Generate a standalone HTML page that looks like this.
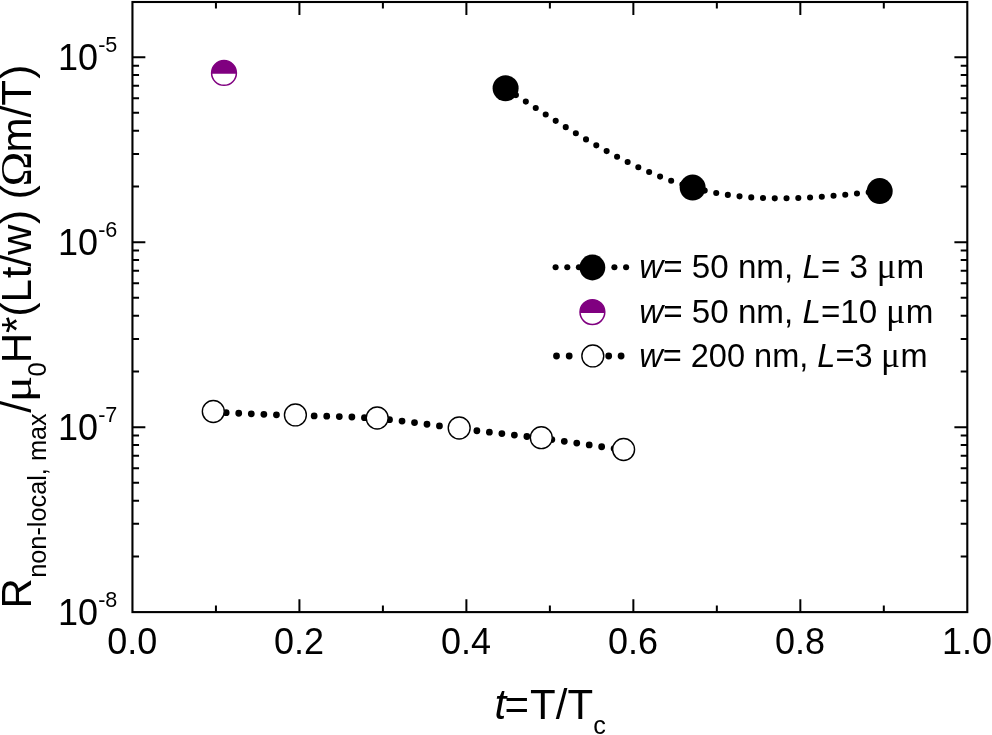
<!DOCTYPE html>
<html lang="en"><head><meta charset="utf-8"><title>R non-local vs t</title>
<style>html,body{margin:0;padding:0;background:#fff;overflow:hidden}svg{display:block}text{font-family:"Liberation Sans", Arial, Helvetica, sans-serif;fill:#000;white-space:pre}.sy{font-family:"Liberation Serif", "DejaVu Serif", serif}.it{font-style:italic}</style>
</head><body>
<svg width="992" height="735" viewBox="0 0 992 735">
<rect width="992" height="735" fill="#fff"/>
<path d="M215.94 612.10V605.50M215.94 2.00V8.60M299.42 612.10V599.20M299.42 2.00V14.90M382.90 612.10V605.50M382.90 2.00V8.60M466.39 612.10V599.20M466.39 2.00V14.90M549.88 612.10V605.50M549.88 2.00V8.60M633.36 612.10V599.20M633.36 2.00V14.90M716.84 612.10V605.50M716.84 2.00V8.60M800.33 612.10V599.20M800.33 2.00V14.90M883.81 612.10V605.50M883.81 2.00V8.60M132.45 556.42H139.05M967.30 556.42H960.70M132.45 523.85H139.05M967.30 523.85H960.70M132.45 500.74H139.05M967.30 500.74H960.70M132.45 482.81H139.05M967.30 482.81H960.70M132.45 468.17H139.05M967.30 468.17H960.70M132.45 455.78H139.05M967.30 455.78H960.70M132.45 445.06H139.05M967.30 445.06H960.70M132.45 435.59H139.05M967.30 435.59H960.70M132.45 427.13H145.35M967.30 427.13H954.40M132.45 371.45H139.05M967.30 371.45H960.70M132.45 338.88H139.05M967.30 338.88H960.70M132.45 315.77H139.05M967.30 315.77H960.70M132.45 297.84H139.05M967.30 297.84H960.70M132.45 283.20H139.05M967.30 283.20H960.70M132.45 270.81H139.05M967.30 270.81H960.70M132.45 260.09H139.05M967.30 260.09H960.70M132.45 250.62H139.05M967.30 250.62H960.70M132.45 242.16H145.35M967.30 242.16H954.40M132.45 186.48H139.05M967.30 186.48H960.70M132.45 153.91H139.05M967.30 153.91H960.70M132.45 130.80H139.05M967.30 130.80H960.70M132.45 112.87H139.05M967.30 112.87H960.70M132.45 98.23H139.05M967.30 98.23H960.70M132.45 85.84H139.05M967.30 85.84H960.70M132.45 75.12H139.05M967.30 75.12H960.70M132.45 65.65H139.05M967.30 65.65H960.70M132.45 57.19H145.35M967.30 57.19H954.40" stroke="#000" stroke-width="2.00" fill="none"/>
<rect x="132.45" y="2.00" width="834.85" height="610.10" fill="none" stroke="#000" stroke-width="2.10"/>
<text transform="translate(107.13 654.40) scale(0.9756 1)" font-size="36.90"><tspan>0.0</tspan></text>
<text transform="translate(274.10 654.40) scale(0.9756 1)" font-size="36.90"><tspan>0.2</tspan></text>
<text transform="translate(441.07 654.40) scale(0.9756 1)" font-size="36.90"><tspan>0.4</tspan></text>
<text transform="translate(608.04 654.40) scale(0.9756 1)" font-size="36.90"><tspan>0.6</tspan></text>
<text transform="translate(775.01 654.40) scale(0.9756 1)" font-size="36.90"><tspan>0.8</tspan></text>
<text transform="translate(941.98 654.40) scale(0.9756 1)" font-size="36.90"><tspan>1.0</tspan></text>
<text transform="translate(58.10 70.29) scale(0.9756 1)" font-size="36.90"><tspan>10</tspan><tspan dy="-18.00" font-size="22.14">-5</tspan></text>
<text transform="translate(58.10 255.26) scale(0.9756 1)" font-size="36.90"><tspan>10</tspan><tspan dy="-18.00" font-size="22.14">-6</tspan></text>
<text transform="translate(58.10 440.23) scale(0.9756 1)" font-size="36.90"><tspan>10</tspan><tspan dy="-18.00" font-size="22.14">-7</tspan></text>
<text transform="translate(58.10 625.20) scale(0.9756 1)" font-size="36.90"><tspan>10</tspan><tspan dy="-18.00" font-size="22.14">-8</tspan></text>
<text transform="translate(494.50 719.40) scale(0.9709 1)" font-size="43.26"><tspan x="0.00" class="it">t</tspan><tspan x="10.30" dy="-0.60">=</tspan><tspan x="36.67" dy="0.60">T/T</tspan><tspan x="101.66" dy="14.70" font-size="25.96">c</tspan></text>
<text transform="translate(31.30 608.50) rotate(-90) scale(0.9756 1)" font-size="43.05"><tspan x="0.00">R</tspan><tspan x="31.47" dy="14.90" font-size="25.93">non-local, max</tspan><tspan x="200.59" dy="-14.90">/</tspan><tspan x="237.80" dy="14.90" font-size="26.24">0</tspan><tspan x="251.43" dy="-14.90">H*(L</tspan><tspan x="338.45">t/w</tspan><tspan x="394.11">)</tspan><tspan x="419.43">(</tspan><tspan x="467.50">m/T</tspan><tspan x="542.94">)</tspan></text>
<text transform="translate(31.30 402.30) rotate(-90) scale(1.1494 1)" font-size="42.89"><tspan class="sy">μ</tspan></text>
<text transform="translate(31.30 186.45) rotate(-90) scale(1.0526 1)" font-size="44.55"><tspan class="sy">Ω</tspan></text>
<path d="M213.30 411.50L215.36 411.60L217.42 411.70L219.49 411.80L221.55 411.90L223.61 412.00L225.67 412.10L227.73 412.20L229.79 412.30L231.86 412.39L233.92 412.49L235.98 412.59L238.04 412.69L240.10 412.78L242.17 412.88L244.23 412.97L246.29 413.06L248.35 413.16L250.41 413.25L252.47 413.34L254.54 413.43L256.60 413.52L258.66 413.60L260.72 413.69L262.78 413.78L264.85 413.86L266.91 413.94L268.97 414.02L271.03 414.10L273.09 414.18L275.15 414.25L277.22 414.33L279.28 414.40L281.34 414.47L283.40 414.54L285.46 414.61L287.53 414.67L289.59 414.73L291.65 414.79L293.71 414.85L295.77 414.91L297.83 414.96L299.90 415.02L301.96 415.07L304.02 415.12L306.08 415.17L308.14 415.21L310.21 415.26L312.27 415.31L314.33 415.35L316.39 415.40L318.45 415.44L320.51 415.49L322.58 415.54L324.64 415.59L326.70 415.64L328.76 415.69L330.82 415.74L332.88 415.80L334.95 415.86L337.01 415.92L339.07 415.98L341.13 416.05L343.19 416.12L345.26 416.20L347.32 416.27L349.38 416.36L351.44 416.44L353.50 416.53L355.56 416.63L357.63 416.73L359.69 416.84L361.75 416.95L363.81 417.07L365.87 417.19L367.94 417.32L370.00 417.46L372.06 417.61L374.12 417.76L376.18 417.92L378.24 418.09L380.31 418.26L382.37 418.44L384.43 418.63L386.49 418.83L388.55 419.03L390.62 419.24L392.68 419.46L394.74 419.68L396.80 419.90L398.86 420.13L400.92 420.37L402.99 420.61L405.05 420.86L407.11 421.11L409.17 421.36L411.23 421.62L413.30 421.88L415.36 422.15L417.42 422.41L419.48 422.68L421.54 422.95L423.60 423.23L425.67 423.50L427.73 423.78L429.79 424.06L431.85 424.34L433.91 424.62L435.98 424.90L438.04 425.18L440.10 425.46L442.16 425.74L444.22 426.02L446.28 426.30L448.35 426.57L450.41 426.85L452.47 427.12L454.53 427.39L456.59 427.66L458.66 427.93L460.72 428.19L462.78 428.45L464.84 428.71L466.90 428.97L468.96 429.22L471.03 429.47L473.09 429.72L475.15 429.97L477.21 430.22L479.27 430.46L481.34 430.70L483.40 430.94L485.46 431.18L487.52 431.42L489.58 431.66L491.64 431.89L493.71 432.13L495.77 432.36L497.83 432.60L499.89 432.83L501.95 433.07L504.02 433.30L506.08 433.54L508.14 433.77L510.20 434.01L512.26 434.24L514.32 434.48L516.39 434.71L518.45 434.95L520.51 435.19L522.57 435.43L524.63 435.67L526.69 435.92L528.76 436.16L530.82 436.41L532.88 436.66L534.94 436.91L537.00 437.16L539.07 437.42L541.13 437.68L543.19 437.94L545.25 438.20L547.31 438.47L549.37 438.74L551.44 439.01L553.50 439.28L555.56 439.56L557.62 439.84L559.68 440.12L561.75 440.40L563.81 440.68L565.87 440.97L567.93 441.26L569.99 441.55L572.05 441.84L574.12 442.13L576.18 442.43L578.24 442.72L580.30 443.02L582.36 443.32L584.43 443.62L586.49 443.92L588.55 444.23L590.61 444.53L592.67 444.84L594.73 445.14L596.80 445.45L598.86 445.76L600.92 446.07L602.98 446.38L605.04 446.69L607.11 447.00L609.17 447.31L611.23 447.62L613.29 447.93L615.35 448.25L617.41 448.56L619.48 448.87L621.54 449.19L623.60 449.50" fill="none" stroke="#000" stroke-width="6.80" stroke-linecap="round" stroke-dasharray="0 12.58" stroke-dashoffset="-0.3" transform="translate(0 0.55)"/>
<circle cx="213.30" cy="411.50" r="10.95" fill="#fff" stroke="#000" stroke-width="1.4"/>
<circle cx="295.40" cy="414.90" r="10.95" fill="#fff" stroke="#000" stroke-width="1.4"/>
<circle cx="377.20" cy="418.00" r="10.95" fill="#fff" stroke="#000" stroke-width="1.4"/>
<circle cx="459.20" cy="428.00" r="10.95" fill="#fff" stroke="#000" stroke-width="1.4"/>
<circle cx="541.30" cy="437.70" r="10.95" fill="#fff" stroke="#000" stroke-width="1.4"/>
<circle cx="623.60" cy="449.50" r="10.95" fill="#fff" stroke="#000" stroke-width="1.4"/>
<path d="M505.60 88.30L506.78 89.08L507.95 89.85L509.13 90.63L510.31 91.40L511.48 92.18L512.66 92.95L513.83 93.72L515.01 94.50L516.19 95.27L517.36 96.05L518.54 96.82L519.72 97.59L520.89 98.36L522.07 99.14L523.25 99.91L524.42 100.68L525.60 101.45L526.78 102.22L527.95 102.99L529.13 103.76L530.30 104.52L531.48 105.29L532.66 106.06L533.83 106.82L535.01 107.59L536.19 108.35L537.36 109.11L538.54 109.87L539.72 110.63L540.89 111.39L542.07 112.15L543.25 112.91L544.42 113.67L545.60 114.42L546.77 115.18L547.95 115.93L549.13 116.68L550.30 117.43L551.48 118.18L552.66 118.92L553.83 119.67L555.01 120.42L556.19 121.16L557.36 121.90L558.54 122.64L559.72 123.38L560.89 124.11L562.07 124.85L563.24 125.58L564.42 126.31L565.60 127.04L566.77 127.77L567.95 128.50L569.13 129.22L570.30 129.94L571.48 130.66L572.66 131.38L573.83 132.10L575.01 132.81L576.18 133.52L577.36 134.23L578.54 134.94L579.71 135.65L580.89 136.35L582.07 137.05L583.24 137.75L584.42 138.44L585.60 139.14L586.77 139.83L587.95 140.52L589.13 141.20L590.30 141.89L591.48 142.57L592.65 143.25L593.83 143.92L595.01 144.60L596.18 145.27L597.36 145.93L598.54 146.60L599.71 147.26L600.89 147.92L602.07 148.58L603.24 149.23L604.42 149.88L605.60 150.53L606.77 151.17L607.95 151.82L609.12 152.45L610.30 153.09L611.48 153.72L612.65 154.35L613.83 154.97L615.01 155.60L616.18 156.22L617.36 156.83L618.54 157.44L619.71 158.05L620.89 158.66L622.07 159.26L623.24 159.86L624.42 160.45L625.59 161.04L626.77 161.63L627.95 162.21L629.12 162.79L630.30 163.37L631.48 163.94L632.65 164.51L633.83 165.08L635.01 165.64L636.18 166.19L637.36 166.75L638.53 167.30L639.71 167.84L640.89 168.38L642.06 168.92L643.24 169.45L644.42 169.98L645.59 170.50L646.77 171.02L647.95 171.54L649.12 172.05L650.30 172.56L651.48 173.06L652.65 173.56L653.83 174.05L655.00 174.54L656.18 175.02L657.36 175.50L658.53 175.98L659.71 176.45L660.89 176.92L662.06 177.38L663.24 177.84L664.42 178.29L665.59 178.73L666.77 179.18L667.95 179.61L669.12 180.05L670.30 180.47L671.47 180.90L672.65 181.31L673.83 181.72L675.00 182.13L676.18 182.53L677.36 182.93L678.53 183.32L679.71 183.71L680.89 184.09L682.06 184.46L683.24 184.83L684.42 185.20L685.59 185.56L686.77 185.91L687.94 186.26L689.12 186.60L690.30 186.94L691.47 187.27L692.65 187.60" fill="none" stroke="#000" stroke-width="6.10" stroke-linecap="round" stroke-dasharray="0 11.85" stroke-dashoffset="-0.50"/>
<path d="M692.65 187.60L693.83 187.92L695.00 188.24L696.18 188.54L697.36 188.85L698.53 189.15L699.71 189.44L700.88 189.73L702.06 190.01L703.24 190.28L704.41 190.55L705.59 190.82L706.77 191.08L707.94 191.34L709.12 191.59L710.30 191.83L711.47 192.07L712.65 192.30L713.83 192.53L715.00 192.76L716.18 192.98L717.35 193.19L718.53 193.40L719.71 193.60L720.88 193.80L722.06 194.00L723.24 194.19L724.41 194.37L725.59 194.55L726.77 194.73L727.94 194.90L729.12 195.07L730.30 195.23L731.47 195.39L732.65 195.54L733.82 195.69L735.00 195.83L736.18 195.97L737.35 196.11L738.53 196.24L739.71 196.36L740.88 196.49L742.06 196.61L743.24 196.72L744.41 196.83L745.59 196.93L746.77 197.04L747.94 197.13L749.12 197.23L750.29 197.32L751.47 197.40L752.65 197.48L753.82 197.56L755.00 197.64L756.18 197.71L757.35 197.77L758.53 197.84L759.71 197.90L760.88 197.95L762.06 198.00L763.23 198.05L764.41 198.10L765.59 198.14L766.76 198.18L767.94 198.21L769.12 198.24L770.29 198.27L771.47 198.29L772.65 198.31L773.82 198.33L775.00 198.35L776.18 198.36L777.35 198.37L778.53 198.37L779.70 198.37L780.88 198.37L782.06 198.37L783.23 198.36L784.41 198.35L785.59 198.34L786.76 198.32L787.94 198.30L789.12 198.28L790.29 198.26L791.47 198.23L792.65 198.20L793.82 198.17L795.00 198.14L796.17 198.10L797.35 198.06L798.53 198.02L799.70 197.97L800.88 197.93L802.06 197.88L803.23 197.82L804.41 197.77L805.59 197.71L806.76 197.65L807.94 197.59L809.12 197.53L810.29 197.46L811.47 197.40L812.64 197.33L813.82 197.26L815.00 197.18L816.17 197.11L817.35 197.03L818.53 196.95L819.70 196.87L820.88 196.79L822.06 196.70L823.23 196.61L824.41 196.53L825.58 196.44L826.76 196.34L827.94 196.25L829.11 196.16L830.29 196.06L831.47 195.96L832.64 195.86L833.82 195.76L835.00 195.66L836.17 195.56L837.35 195.45L838.53 195.35L839.70 195.24L840.88 195.13L842.05 195.02L843.23 194.91L844.41 194.80L845.58 194.68L846.76 194.57L847.94 194.46L849.11 194.34L850.29 194.22L851.47 194.10L852.64 193.99L853.82 193.87L855.00 193.75L856.17 193.62L857.35 193.50L858.52 193.38L859.70 193.26L860.88 193.13L862.05 193.01L863.23 192.88L864.41 192.76L865.58 192.63L866.76 192.51L867.94 192.38L869.11 192.25L870.29 192.13L871.47 192.00L872.64 191.87L873.82 191.74L874.99 191.61L876.17 191.49L877.35 191.36L878.52 191.23L879.70 191.10" fill="none" stroke="#000" stroke-width="6.10" stroke-linecap="round" stroke-dasharray="0 11.77" stroke-dashoffset="-0.66"/>
<circle cx="505.60" cy="88.30" r="13.0" fill="#000"/>
<circle cx="692.65" cy="187.60" r="13.0" fill="#000"/>
<circle cx="879.70" cy="191.10" r="13.0" fill="#000"/>
<circle cx="224.00" cy="72.95" r="12.40" fill="#fff"/>
<path d="M211.63 73.80A12.40 12.40 0 1 1 236.37 73.80Z" fill="#800080"/>
<circle cx="224.00" cy="72.95" r="12.40" fill="none" stroke="#800080" stroke-width="1.5"/>
<g fill="#000"><circle cx="555.60" cy="267.30" r="3.05"/><circle cx="567.30" cy="267.30" r="3.05"/><circle cx="578.90" cy="267.30" r="3.05"/><circle cx="614.40" cy="267.30" r="3.05"/><circle cx="626.10" cy="267.30" r="3.05"/></g>
<circle cx="592.4" cy="267.5" r="12.9" fill="#000"/>
<circle cx="592.40" cy="312.10" r="12.40" fill="#fff"/>
<path d="M580.03 312.95A12.40 12.40 0 1 1 604.77 312.95Z" fill="#800080"/>
<circle cx="592.40" cy="312.10" r="12.40" fill="none" stroke="#800080" stroke-width="1.5"/>
<g fill="#000"><circle cx="556.50" cy="356.00" r="3.40"/><circle cx="569.20" cy="356.00" r="3.40"/><circle cx="608.70" cy="356.00" r="3.40"/><circle cx="621.10" cy="356.00" r="3.40"/></g>
<circle cx="592.8" cy="355.9" r="10.95" fill="#fff" stroke="#000" stroke-width="1.4"/>
<text transform="translate(639.20 277.80) scale(0.9804 1)" font-size="33.86"><tspan class="it">w</tspan><tspan>= 50 nm, </tspan><tspan class="it">L</tspan><tspan>= 3 </tspan><tspan x="242.23" font-size="36.74" class="sy">μ</tspan><tspan x="262.34">m</tspan></text>
<text transform="translate(639.20 322.50) scale(0.9804 1)" font-size="33.86"><tspan class="it">w</tspan><tspan>= 50 nm, </tspan><tspan class="it">L</tspan><tspan>=10 </tspan><tspan x="251.64" font-size="36.74" class="sy">μ</tspan><tspan x="271.76">m</tspan></text>
<text transform="translate(639.20 366.60) scale(0.9804 1)" font-size="33.20"><tspan class="it">w</tspan><tspan>= 200 nm, </tspan><tspan class="it">L</tspan><tspan>=3 </tspan><tspan x="246.70" font-size="36.02" class="sy">μ</tspan><tspan x="266.44">m</tspan></text>
</svg></body></html>
